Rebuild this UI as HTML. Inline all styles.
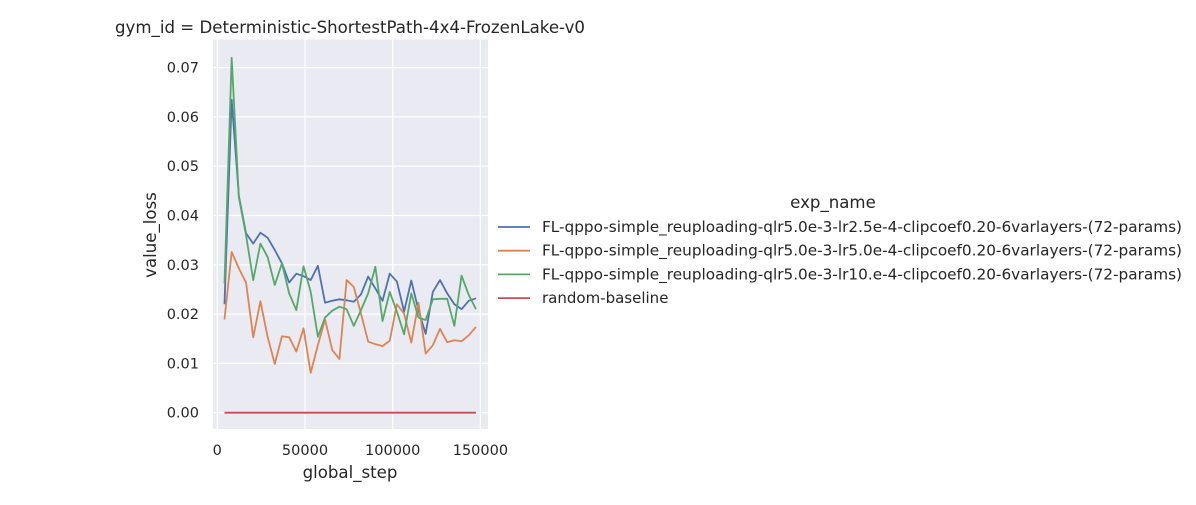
<!DOCTYPE html>
<html><head><meta charset="utf-8"><style>
body{margin:0;background:#fff;}
svg text{font-family:"DejaVu Sans","Liberation Sans",sans-serif;fill:#262626;}
</style></head><body>
<svg id="chart" width="1196" height="500" xmlns="http://www.w3.org/2000/svg">
<rect x="213" y="39.5" width="275" height="389.5" fill="#EAEAF2"/>
<g id="grid"></g>
<g id="series"></g>
<g id="ticks"></g>
<text x="350" y="33" font-size="16.6" text-anchor="middle" textLength="470" lengthAdjust="spacingAndGlyphs">gym_id = Deterministic-ShortestPath-4x4-FrozenLake-v0</text>
<text x="350" y="478" font-size="16.6" text-anchor="middle">global_step</text>
<text transform="translate(156,235) rotate(-90)" font-size="16.6" text-anchor="middle">value_loss</text>
<g id="legend">
<text x="833" y="208" font-size="16.6" text-anchor="middle">exp_name</text>
</g>
</svg>
<script>
const steps = [];
for (let i = 1; i <= 36; i++) steps.push(4096 * i);
const blueLoss = [0.022,0.0635,0.044,0.0364,0.0343,0.0365,0.0355,0.033,0.0303,0.0264,0.0282,0.0277,0.0269,0.0298,0.0223,0.0227,0.023,0.0228,0.0225,0.024,0.0276,0.0252,0.0227,0.0282,0.0266,0.0205,0.0268,0.0208,0.016,0.0245,0.0269,0.0242,0.022,0.021,0.0227,0.0232];
const orangeLoss = [0.0189,0.0326,0.0293,0.0264,0.0153,0.0226,0.0154,0.0099,0.0155,0.0153,0.0124,0.0171,0.0081,0.0137,0.0189,0.0127,0.0109,0.0269,0.0255,0.0201,0.0144,0.0139,0.0135,0.0146,0.022,0.0201,0.0142,0.0223,0.012,0.0137,0.017,0.0143,0.0147,0.0145,0.0157,0.0174];
const greenLoss = [0.0262,0.072,0.0437,0.036,0.0269,0.0343,0.0316,0.0259,0.0303,0.0242,0.0208,0.0297,0.0245,0.0154,0.0193,0.0207,0.0215,0.021,0.0176,0.0208,0.0242,0.0296,0.0186,0.0245,0.0205,0.0159,0.0242,0.0193,0.0188,0.023,0.0231,0.0231,0.0176,0.0278,0.0239,0.021];
const baselineLoss = steps.map(() => 0);
const xTicks = [0, 50000, 100000, 150000];
const yTicks = [0, 0.01, 0.02, 0.03, 0.04, 0.05, 0.06, 0.07];
const seriesNames = ["FL-qppo-simple_reuploading-qlr5.0e-3-lr2.5e-4-clipcoef0.20-6varlayers-(72-params)","FL-qppo-simple_reuploading-qlr5.0e-3-lr5.0e-4-clipcoef0.20-6varlayers-(72-params)","FL-qppo-simple_reuploading-qlr5.0e-3-lr10.e-4-clipcoef0.20-6varlayers-(72-params)","random-baseline"];

const NS = "http://www.w3.org/2000/svg";
const xs = v => 217.3 + v * (87.7 / 50000);
const ys = v => 412.7 - v * 4930;
function mk(tag, attrs, parent) {
  const e = document.createElementNS(NS, tag);
  for (const k in attrs) e.setAttribute(k, attrs[k]);
  parent.appendChild(e);
  return e;
}
const grid = document.getElementById('grid');
const ticks = document.getElementById('ticks');
xTicks.forEach(t => {
  const l = mk('line', {x1: xs(t), x2: xs(t), y1: 39.5, y2: 429, stroke: '#fff', 'stroke-width': 1.2}, grid);
  
  
  const tx = mk('text', {x: xs(t), y: 455, 'font-size': 14.5, 'text-anchor': 'middle'}, ticks);
  tx.textContent = String(t);
  
  
});
yTicks.forEach(t => {
  const l = mk('line', {x1: 213, x2: 488, y1: ys(t), y2: ys(t), stroke: '#fff', 'stroke-width': 1.2}, grid);
  
  
  const tx = mk('text', {x: 199, y: ys(t) + 5, 'font-size': 14.5, 'text-anchor': 'end'}, ticks);
  tx.textContent = t.toFixed(2);
  
  
});
const colors = ['#4C72B0', '#DD8452', '#55A868', '#C44E52'];
const data = [blueLoss, orangeLoss, greenLoss, baselineLoss];
const sg = document.getElementById('series');
const legend = document.getElementById('legend');
data.forEach((arr, si) => {
  const pts = arr.map((v, i) => xs(steps[i]).toFixed(2) + ',' + ys(v).toFixed(2)).join(' ');
  const p = mk('polyline', {points: pts, fill: 'none', stroke: colors[si], 'stroke-width': 1.8, 'stroke-linejoin': 'round'}, sg);
  
  
  const y = 227 + si * 23.7;
  const ll = mk('line', {x1: 498, x2: 530, y1: y, y2: y, stroke: colors[si], 'stroke-width': 1.8}, legend);
  
  
  const attrs = {x: 542, y: y + 5, 'font-size': 15};
  if (si < 3) { attrs.textLength = 640; attrs.lengthAdjust = 'spacingAndGlyphs'; }
  const lt = mk('text', attrs, legend);
  lt.textContent = seriesNames[si];
  
  
});
</script>
</body></html>
